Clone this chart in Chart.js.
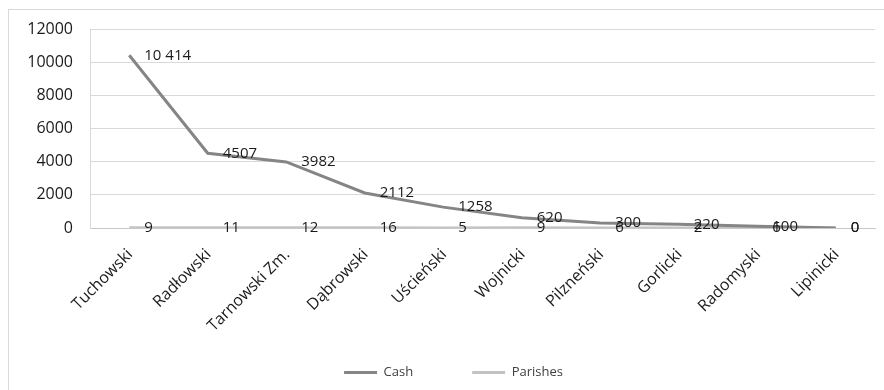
<!DOCTYPE html>
<html>
<head>
<meta charset="utf-8">
<script src="https://cdn.jsdelivr.net/npm/chart.js@4/dist/chart.umd.min.js"></script>
<style>
  body { margin: 0; background: #fff; overflow: hidden; }
  #ramka { position: absolute; left: 8px; top: 9px; width: 900px; height: 400px; border: 1px solid #d9d9d9; }
  #wykres { position: absolute; left: 0; top: 0; }
</style>
</head>
<body>
<div id="ramka"></div>
<canvas id="wykres" width="884" height="390"></canvas>
<script>
// Dekanaty i ich dane
const dekanaty = ['Tuchowski', 'Radłowski', 'Tarnowski Zm.', 'Dąbrowski', 'Uścieński', 'Wojnicki', 'Pilzneński', 'Gorlicki', 'Radomyski', 'Lipinicki'];
const gotowka = [10414, 4507, 3982, 2112, 1258, 620, 300, 220, 100, 0];
const parafie = [9, 11, 12, 16, 5, 9, 6, 2, 6, 0];
const osY = { min: 0, max: 12000, krok: 2000 };

const czcionka = '"Open Sans", "Liberation Sans", sans-serif';
const dolnyOdstep = 1;

// Liczby od 10 000 wzwyż ze spacją jako separatorem tysięcy
function formatuj(v) {
    return v >= 10000 ? String(v).replace(/\B(?=(\d{3})+(?!\d))/g, ' ') : String(v);
}

// Etykiety wartości po prawej stronie punktów
const etykietyWartosci = {
    id: 'etykietyWartosci',
    afterDatasetsDraw(chart) {
        const ctx = chart.ctx;
        ctx.save();
        ctx.font = '15px ' + czcionka;
        ctx.fillStyle = '#1a1a1a';
        ctx.textAlign = 'left';
        ctx.textBaseline = 'middle';
        chart.data.datasets.forEach((ds, i) => {
            chart.getDatasetMeta(i).data.forEach((pkt, j) => {
                ctx.fillText(formatuj(ds.data[j]), pkt.x + 15, pkt.y);
            });
        });
        ctx.restore();
    }
};

// Nazwy dekanatów pod osią, obrócone o 45 stopni
const etykietyOsi = {
    id: 'etykietyOsi',
    afterDraw(chart) {
        const os = chart.scales.x;
        const ctx = chart.ctx;
        ctx.save();
        ctx.font = '16px ' + czcionka;
        ctx.fillStyle = '#1a1a1a';
        ctx.textAlign = 'right';
        ctx.textBaseline = 'middle';
        chart.data.labels.forEach((nazwa, i) => {
            ctx.save();
            ctx.translate(os.getPixelForTick(i) + 1, os.top + 24);
            ctx.rotate(-Math.PI / 4);
            ctx.fillText(nazwa, 0, 0);
            ctx.restore();
        });
        ctx.restore();
    }
};

// Legenda przesunięta nieco w prawo, pod środek ramki
const przesunLegende = {
    id: 'przesunLegende',
    afterLayout(chart) {
        chart.legend.left += 6;
        chart.legend.right += 6;
    }
};

new Chart(document.getElementById('wykres'), {
    type: 'line',
    data: {
        labels: dekanaty,
        datasets: [{
            label: 'Cash',
            data: gotowka,
            borderColor: '#858585',
            backgroundColor: '#858585',
            borderWidth: 3,
            pointRadius: 0,
            tension: 0
        }, {
            label: 'Parishes',
            data: parafie,
            borderColor: '#c3c3c3',
            backgroundColor: '#c3c3c3',
            borderWidth: 3,
            pointRadius: 0,
            tension: 0
        }]
    },
    options: {
        responsive: false,
        animation: false,
        layout: { padding: { left: 20, top: 29, right: 9, bottom: dolnyOdstep } },
        plugins: {
            tooltip: { enabled: false },
            legend: {
                position: 'bottom',
                labels: {
                    usePointStyle: true,
                    pointStyle: 'line',
                    pointStyleWidth: 33,
                    padding: 59,
                    color: '#404040',
                    font: { family: czcionka, size: 13 }
                }
            }
        },
        scales: {
            x: {
                offset: true,
                grid: { display: false, offset: true },
                border: { display: true, color: '#c8c8c8' },
                ticks: { display: false },
                afterFit(scale) {
                    const ch = scale.chart;
                    scale.height = ch.height - 228 - ch.legend.height - dolnyOdstep;
                }
            },
            y: {
                min: osY.min,
                max: osY.max,
                ticks: {
                    stepSize: osY.krok,
                    padding: 17,
                    color: '#1a1a1a',
                    font: { family: czcionka, size: 16 },
                    callback: v => String(v)
                },
                grid: { color: '#d9d9d9', drawTicks: false },
                border: { display: true, color: '#d9d9d9' },
                afterFit(scale) { scale.width = 70; }
            }
        }
    },
    plugins: [etykietyWartosci, etykietyOsi, przesunLegende]
});
</script>
</body>
</html>
